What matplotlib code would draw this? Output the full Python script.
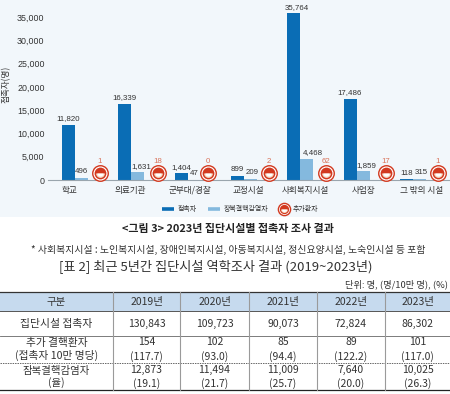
import matplotlib
matplotlib.use("Agg")

import matplotlib.pyplot as plt
from matplotlib.markers import MarkerStyle

plt.rcParams['font.family'] = ['Noto Sans CJK KR', 'DejaVu Sans']

categories = ["학교", "의료기관", "군부대/경찰", "교정시설", "사회복지시설", "사업장", "그 밖의 시설"]
contacts = [11820, 16339, 1404, 899, 35764, 17486, 118]
latent = [496, 1631, 47, 209, 4468, 1859, 315]
patients = [1, 18, 0, 2, 62, 17, 1]
y_ticks = [0, 5000, 10000, 15000, 20000, 25000, 30000, 35000]

table_header = ["구분", "2019년", "2020년", "2021년", "2022년", "2023년"]
row_contacts = ["130,843", "109,723", "90,073", "72,824", "86,302"]
row_patients = ["154", "102", "85", "89", "101"]
row_patient_rates = ["(117.7)", "(93.0)", "(94.4)", "(122.2)", "(117.0)"]
row_latent = ["12,873", "11,494", "11,009", "7,640", "10,025"]
row_latent_rates = ["(19.1)", "(21.7)", "(25.7)", "(20.0)", "(26.3)"]

DARK = "#0a6db5"
LIGHT = "#84b9de"
RED = "#d2391f"
TEXT = "#333333"
NUM_FONT = ["Liberation Sans", "DejaVu Sans"]
STEP = 56.3  # px between groups


def draw_icon(ax, x, y, transform, scale=1.0):
    kw = dict(transform=transform, clip_on=False, zorder=5)
    half = MarkerStyle("o", fillstyle="bottom")
    ax.scatter([x], [y], s=125 * scale, color="white", edgecolor=RED, linewidth=1.0, **kw)
    ax.scatter([x], [y], s=72 * scale, color=RED, linewidth=0, **kw)
    ax.scatter([x], [y], s=40 * scale, color="#f7dcc4", linewidth=0, marker=half, **kw)
    ax.scatter([x], [y], s=20 * scale, color="white", linewidth=0, marker=half, **kw)


fig = plt.figure(figsize=(4.5, 3.94), dpi=100)

# page layer in pixel coordinates, holds panel, captions and table
page = fig.add_axes([0, 0, 1, 1])
page.set_xlim(0, 450)
page.set_ylim(394, 0)
page.axis("off")
page.add_patch(plt.Rectangle((0, 0), 450, 217, color="#f2f7fb", linewidth=0))

# chart
ax = fig.add_axes([48 / 450, 1 - 180 / 394, 402 / 450, 180 / 394])
ax.patch.set_alpha(0)
ax.set_xlim((48 - 75) / STEP, (450 - 75) / STEP)
ax.set_ylim(0, 38650)
idx = list(range(len(categories)))
width = 13 / STEP
ax.bar([i - width / 2 for i in idx], contacts, width, color=DARK)
ax.bar([i + width / 2 for i in idx], latent, width, color=LIGHT)

for s in ["top", "right", "left"]:
    ax.spines[s].set_visible(False)
ax.spines["bottom"].set_color("#9aa5ad")
ax.spines["bottom"].set_linewidth(0.8)
ax.set_yticks(y_ticks)
ax.set_yticklabels([f"{v:,}" for v in y_ticks], fontsize=6.4, color=TEXT, family=NUM_FONT)
ax.tick_params(axis="y", length=0, pad=2.5)
ax.set_xticks([])
ax.set_ylabel("접촉자(명)", fontsize=6.2, color=TEXT, labelpad=0)
ax.yaxis.set_label_coords(-0.092, 0.53)

dark_shift = [0, 0, 0, 0, 3.5, 0, 0]
light_shift = [0, 3.5, 0, 2, 6.5, 3.5, 2.5]
icon_px = [25, 27, 20, 25, 26, 29, 25]
label_px = [-6, -1, 2, 4, 5, 7, 9]
blend = ax.get_xaxis_transform()
for i in idx:
    ax.annotate(f"{contacts[i]:,}", (i - width / 2, contacts[i]), xytext=(dark_shift[i] * 0.72, 2),
                textcoords="offset points", ha="center", va="bottom", fontsize=5.7,
                color=TEXT, family=NUM_FONT)
    ax.annotate(f"{latent[i]:,}", (i + width / 2, latent[i]), xytext=(light_shift[i] * 0.72, 2),
                textcoords="offset points", ha="center", va="bottom", fontsize=5.7,
                color=TEXT, family=NUM_FONT)
    # icon row sits to the right of each bar pair
    ix = i + icon_px[i] / STEP
    draw_icon(ax, ix, 0.04, blend)
    ax.text(ix, 0.085, str(patients[i]), transform=blend, ha="center", va="bottom",
            fontsize=5.7, color="#d9735a", family=NUM_FONT)
    ax.text(i + label_px[i] / STEP, -0.058, categories[i], transform=blend, ha="center",
            va="center", fontsize=6.2, color=TEXT, clip_on=False)

# legend
page.plot([162, 174], [209, 209], color=DARK, linewidth=2.6, solid_capstyle="butt")
page.text(178, 209, "접촉자", fontsize=5, color=TEXT, va="center")
page.plot([208, 220], [209, 209], color=LIGHT, linewidth=2.6, solid_capstyle="butt")
page.text(224, 209, "장복결핵감염자", fontsize=5, color=TEXT, va="center")
draw_icon(page, 284, 209, page.transData, scale=0.62)
page.text(293, 209, "추가환자", fontsize=5, color=TEXT, va="center")

# captions
page.text(228, 229, "<그림 3> 2023년 집단시설별 접촉자 조사 결과", fontsize=7.9, fontweight="bold",
          ha="center", va="center", color="#222222")
page.text(228, 250, "* 사회복지시설 : 노인복지시설, 장애인복지시설, 아동복지시설, 정신요양시설, 노숙인시설 등 포함",
          fontsize=7.1, ha="center", va="center", color=TEXT)
page.text(216, 266, "[표 2] 최근 5년간 집단시설 역학조사 결과 (2019~2023년)", fontsize=9.5,
          ha="center", va="center", color=TEXT)
page.text(448, 284, "단위: 명, (명/10만 명), (%)", fontsize=6.7, ha="right", va="center", color=TEXT)

# table
cols = [0, 113, 180, 249, 317, 385, 450]
page.add_patch(plt.Rectangle((0, 292), 450, 19, color="#c6daee", linewidth=0))
page.plot([0, 450], [292, 292], color="#333333", linewidth=0.9)
page.plot([0, 450], [311, 311], color="#555555", linewidth=0.7)
page.plot([0, 450], [336, 336], color="#666666", linewidth=0.6)
page.plot([0, 450], [363, 363], color="#666666", linewidth=0.7, linestyle=(0, (1.5, 1)))
page.plot([0, 450], [390, 390], color="#222222", linewidth=0.9)
for x in cols[1:-1]:
    page.plot([x, x], [292, 390], color="#9a9a9a", linewidth=0.8)

col_mid = [(cols[i] + cols[i + 1]) / 2 for i in range(6)]
for x, t in zip(col_mid, table_header):
    page.text(x, 301.5, t, fontsize=7.5, ha="center", va="center", color=TEXT)
page.text(col_mid[0], 323.5, "집단시설 접촉자", fontsize=7.8, ha="center", va="center", color=TEXT)
page.text(col_mid[0], 343, "추가 결핵환자", fontsize=7.7, ha="center", va="center", color=TEXT)
page.text(col_mid[0], 355, "(접촉자 10만 명당)", fontsize=7.7, ha="center", va="center", color=TEXT)
page.text(col_mid[0], 371, "잠복결핵감염자", fontsize=7.5, ha="center", va="center", color=TEXT)
page.text(col_mid[0], 383, "(율)", fontsize=7.5, ha="center", va="center", color=TEXT)
rows = [(row_contacts, 323.5), (row_patients, 342), (row_patient_rates, 357),
        (row_latent, 370), (row_latent_rates, 384)]
for values, y in rows:
    for x, t in zip(col_mid[1:], values):
        page.text(x, y, t, fontsize=7.5, ha="center", va="center", color=TEXT)

fig.savefig("out.png", dpi=100)
plt.close(fig)
